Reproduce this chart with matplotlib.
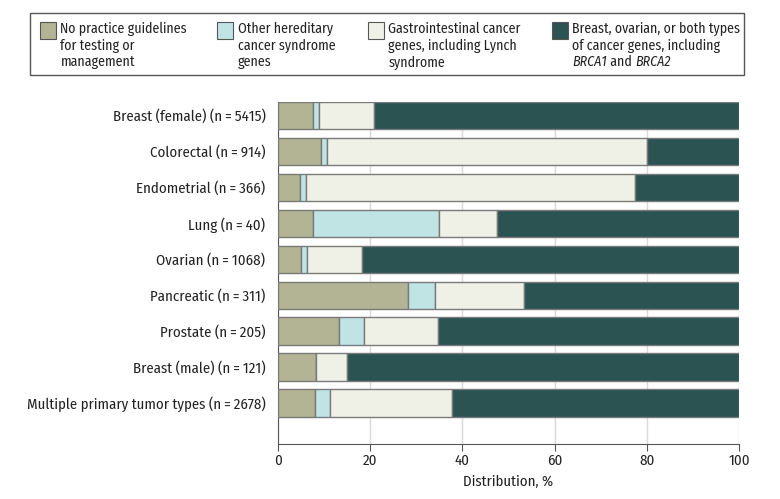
import matplotlib
matplotlib.use("Agg")
import matplotlib.pyplot as plt
from matplotlib.patches import Rectangle

plt.rcParams['font.family'] = ['Fira Sans Condensed', 'Liberation Sans Narrow', 'DejaVu Sans']

# data (% of patients per tumor type)
categories = ["Breast (female) (n\u2009=\u20095415)", "Colorectal (n\u2009=\u2009914)",
              "Endometrial (n\u2009=\u2009366)", "Lung (n\u2009=\u200940)",
              "Ovarian (n\u2009=\u20091068)", "Pancreatic (n\u2009=\u2009311)",
              "Prostate (n\u2009=\u2009205)", "Breast (male) (n\u2009=\u2009121)",
              "Multiple primary tumor types (n\u2009=\u20092678)"]
no_guidelines = [7.7, 9.4, 4.8, 7.5, 5.0, 28.3, 13.2, 8.3, 8.0]
other_hereditary = [1.3, 1.3, 1.3, 27.5, 1.2, 5.8, 5.4, 0.0, 3.3]
gastro = [11.9, 69.3, 71.3, 12.5, 12.0, 19.3, 16.1, 6.6, 26.5]
breast_ovarian = [79.1, 20.0, 22.6, 52.5, 81.8, 46.6, 65.3, 85.1, 62.2]

series = [no_guidelines, other_hereditary, gastro, breast_ovarian]
colors = ["#b3b494", "#c0e4e4", "#f0f1e6", "#2a5352"]
legend_labels = ["No practice guidelines\nfor testing or\nmanagement",
                 "Other hereditary\ncancer syndrome\ngenes",
                 "Gastrointestinal cancer\ngenes, including Lynch\nsyndrome",
                 "Breast, ovarian, or both types\nof cancer genes, including"]
# last legend line, mixed italic / upright pieces
last_line = [("BRCA1", "italic"), (" and ", "normal"), ("BRCA2", "italic")]

fig = plt.figure(figsize=(7.8, 4.99), dpi=100)
ax = fig.add_axes([278/780, 1-444/499, 461/780, (444-101.7)/499])

ypos = list(range(len(categories)))
left = [0.0]*len(categories)
for vals, c in zip(series, colors):
    ax.barh(ypos, vals, left=left, height=0.76, color=c, edgecolor="#7a7a7a",
            linewidth=1, zorder=3)
    left = [l + v for l, v in zip(left, vals)]

ax.set_xlim(0, 100)
ax.set_ylim(8 + 41/36, -0.38)
ax.set_yticks(ypos)
ax.set_yticklabels(categories, fontsize=10.7, color="#222222")
ax.tick_params(axis="y", length=0, pad=9)
ax.set_xticks([0, 20, 40, 60, 80, 100])
ax.tick_params(axis="x", length=5, color="#555555", labelsize=10.7, labelcolor="#222222", pad=2)
ax.set_xlabel("Distribution, %", fontsize=10.7, color="#222222", labelpad=5)
ax.grid(axis="x", color="#d9d9d9", linewidth=1, zorder=0)
for s in ["top", "right"]:
    ax.spines[s].set_visible(False)
ax.spines["left"].set_color("#555555")
ax.spines["bottom"].set_color("#555555")

# legend drawn by hand
W, H = 780, 499
fs_leg = 10
fig.patches.append(Rectangle((30/W, 1-75/H), 714/W, 62/H, transform=fig.transFigure,
                             fill=False, edgecolor="#555555", linewidth=1))
col_x = [39.5, 217, 367.5, 551.5]
for x, c, lab in zip(col_x, colors, legend_labels):
    fig.patches.append(Rectangle((x/W, 1-38.5/H), 16/W, 16/H, transform=fig.transFigure,
                                 facecolor=c, edgecolor="#555555", linewidth=0.8))
    fig.text((x+21)/W, 1-22/H, lab, fontsize=fs_leg, va="top", ha="left",
             color="#222222", linespacing=1.2)

renderer = fig.canvas.get_renderer()
xpix = col_x[3] + 21
for piece, style in last_line:
    t = fig.text(xpix/W, 1-66/H, piece, fontsize=fs_leg, style=style, va="baseline",
                 ha="left", color="#222222")
    xpix += t.get_window_extent(renderer).width

fig.savefig("out.png", dpi=100)
